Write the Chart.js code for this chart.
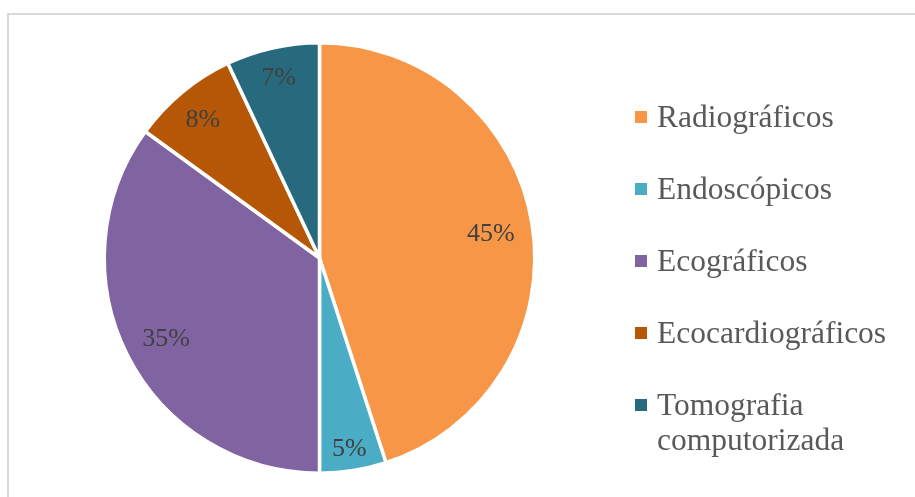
<!DOCTYPE html>
<html>
<head>
<meta charset="utf-8">
<script src="https://cdn.jsdelivr.net/npm/chart.js@4/dist/chart.umd.min.js"></script>
<style>
    html, body { margin: 0; padding: 0; background: #fff; }
    #wrap { position: relative; width: 915px; height: 497px; overflow: hidden; }
    #frame { position: absolute; left: 7px; top: 13px; width: 950px; height: 520px; border: 2px solid #d9d9d9; box-sizing: border-box; }
    #pie { position: absolute; left: 0; top: 0; }
</style>
</head>
<body>
<div id="wrap">
    <div id="frame"></div>
    <canvas id="pie" width="915" height="497"></canvas>
</div>
<script>
var categories = ["Radiográficos", "Endoscópicos", "Ecográficos", "Ecocardiográficos", ["Tomografia", "computorizada"]];
var shares = [45, 5, 35, 8, 7];
var sliceColors = ["#f79646", "#4bacc6", "#8064a2", "#b65708", "#276a7d"];

// how far out (share of radius) each percentage label sits
var labelDist = [0.806, 0.886, 0.80, 0.851, 0.869];

var pctLabels = {
    id: 'pctLabels',
    afterDatasetsDraw: function (chart) {
        var ctx = chart.ctx;
        var meta = chart.getDatasetMeta(0);
        ctx.save();
        ctx.font = '26px "Liberation Serif", "Times New Roman", serif';
        ctx.fillStyle = '#404040';
        ctx.textAlign = 'center';
        ctx.textBaseline = 'middle';
        meta.data.forEach(function (arc, i) {
            var p = arc.getProps(['x', 'y', 'startAngle', 'endAngle', 'outerRadius'], true);
            var mid = (p.startAngle + p.endAngle) / 2;
            var r = p.outerRadius * labelDist[i];
            // +3: 'middle' sits a bit high for serif digits
            ctx.fillText(shares[i] + '%', p.x + Math.cos(mid) * r, p.y + Math.sin(mid) * r + 3);
        });
        ctx.restore();
    }
};

var sideLegend = {
    id: 'sideLegend',
    afterDraw: function (chart) {
        var ctx = chart.ctx;
        var x = chart.chartArea.right + 98;
        var y = chart.chartArea.top + 76;
        var step = 72, lineH = 35, box = 12;
        ctx.save();
        ctx.font = '31.5px "Liberation Serif", "Times New Roman", serif';
        ctx.textBaseline = 'alphabetic';
        ctx.textAlign = 'left';
        categories.forEach(function (name, i) {
            var cy = y + i * step;
            ctx.fillStyle = sliceColors[i];
            ctx.fillRect(x, cy - box / 2, box, box);
            ctx.fillStyle = '#595959';
            var lines = Array.isArray(name) ? name : [name];
            lines.forEach(function (t, j) {
                ctx.fillText(t, x + 22, cy + 10 + j * lineH);
            });
        });
        ctx.restore();
    }
};

new Chart(document.getElementById('pie'), {
    type: 'pie',
    data: {
        labels: categories,
        datasets: [{
            data: shares,
            backgroundColor: sliceColors,
            borderColor: '#ffffff',
            borderWidth: 3.5
        }]
    },
    options: {
        responsive: false,
        animation: false,
        layout: { padding: { left: 102, right: 378, top: 41, bottom: 22 } },
        plugins: {
            legend: { display: false },
            tooltip: { enabled: false }
        }
    },
    plugins: [pctLabels, sideLegend]
});
</script>
</body>
</html>
